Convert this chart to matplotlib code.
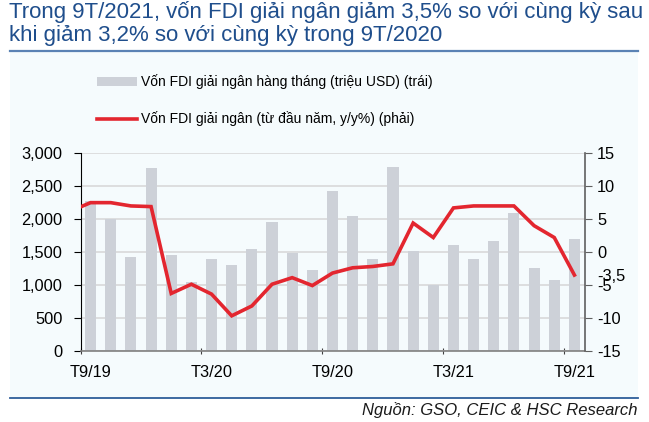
import matplotlib
matplotlib.use("Agg")
import matplotlib.pyplot as plt
from matplotlib.patches import Rectangle, Patch
from matplotlib.lines import Line2D
import numpy as np

plt.rcParams['font.family'] = ['Liberation Sans', 'DejaVu Sans']

# ---- data ----
bar_values = [2270, 2000, 1420, 2780, 1460, 1050, 1400, 1310, 1550, 1960, 1480, 1230,
              2430, 2050, 1400, 2790, 1520, 1000, 1610, 1400, 1660, 2100, 1260, 1080, 1700]
# YTD y/y %, T8/19 .. T9/21 (first point lies just left of the plot)
line_values = [6.2, 7.5, 7.5, 7.0, 6.9, -6.3, -4.9, -6.4, -9.7, -8.2, -4.9, -3.9, -5.1,
               -3.2, -2.4, -2.2, -1.8, 4.4, 2.2, 6.7, 7.0, 7.0, 7.0, 4.0, 2.2, -3.5]
tick_labels = ["T9/19", "T3/20", "T9/20", "T3/21", "T9/21"]
tick_index = [0, 6, 12, 18, 24]
left_ticks = [0, 500, 1000, 1500, 2000, 2500, 3000]
right_ticks = [-15, -10, -5, 0, 5, 10, 15]
right_extra = -3.5
title = "Trong 9T/2021, vốn FDI giải ngân giảm 3,5% so với cùng kỳ sau\nkhi giảm 3,2% so với cùng kỳ trong 9T/2020"
legend_bar = "Vốn FDI giải ngân hàng tháng (triệu USD) (trái)"
legend_line = "Vốn FDI giải ngân (từ đầu năm, y/y%) (phải)"
source = "Nguồn: GSO, CEIC & HSC Research"

W, H = 649, 422
fig = plt.figure(figsize=(W / 100, H / 100), dpi=100)
fig.patch.set_facecolor("white")

def fx(px): return px / W
def fy(py): return 1 - py / H

# background box
bg = "#F5FBFD"
fig.add_artist(Rectangle((fx(10), fy(398)), fx(638) - fx(10), fy(51) - fy(398),
                         transform=fig.transFigure, facecolor=bg, edgecolor="none", zorder=0))
fig.add_artist(Line2D([fx(10), fx(638)], [fy(51), fy(51)], transform=fig.transFigure,
                      color="#5A82B4", lw=1.6))
fig.add_artist(Line2D([fx(10), fx(638)], [fy(398), fy(398)], transform=fig.transFigure,
                      color="#2E5E9A", lw=1.3))

fig.text(fx(9), fy(1), title, ha="left", va="top", fontsize=16, color="#1F4E8C",
         linespacing=1.15)

ax = fig.add_axes([fx(80.5), fy(350.7), fx(584.5) - fx(80.5), fy(153.3) - fy(350.7)])
ax.set_facecolor("none")
x = np.arange(len(bar_values))
ax.bar(x, bar_values, width=0.55, color="#CDD1D8", zorder=2)
ax.set_ylim(0, 3000)
ax.set_xlim(-0.5, len(bar_values) - 0.5)
ax.set_yticks(left_ticks)
ax.set_yticklabels([f"{v:,}" for v in left_ticks], fontsize=11.8)
ax.yaxis.grid(True, color="#D9D9D9", lw=1.2, zorder=0)
ax.set_axisbelow(True)
ax.tick_params(axis="y", length=5, color="black", pad=8)
ax.set_xticks([i - 0.5 for i in tick_index])
ax.set_xticklabels([])
ax.set_xticks(tick_index, minor=True)
ax.set_xticklabels(tick_labels, minor=True, fontsize=11.8)
ax.tick_params(axis="x", which="major", length=5, color="#404040", direction="inout")
ax.tick_params(axis="x", which="minor", length=0, pad=10)
for s in ["top", "right"]:
    ax.spines[s].set_visible(False)
ax.spines["left"].set_color("black")
ax.spines["bottom"].set_color("#808080")
ax.spines["bottom"].set_linewidth(1.2)

ax2 = ax.twinx()
ax2.set_ylim(-15, 15)
xl = np.arange(-1, len(line_values) - 1)
ax2.plot(xl, line_values, color="#E3262F", lw=2.6, zorder=3, solid_joinstyle="miter")
ax2.set_xlim(-0.5, len(bar_values) - 0.5)
rt = right_ticks + [right_extra]
ax2.set_yticks(rt)
ax2.set_yticklabels([str(v).replace(".", ",") for v in rt], fontsize=11.8)
ax2.tick_params(axis="y", length=5, color="#606060", pad=4)
for s in ["top", "left", "bottom"]:
    ax2.spines[s].set_visible(False)
ax2.spines["right"].set_color("#606060")
ax2.spines["right"].set_linewidth(1.2)
for t in ax2.yaxis.get_major_ticks():
    if abs(t.get_loc() - right_extra) < 1e-6:
        t.tick2line.set_visible(False)

handles = [Patch(facecolor="#CDD1D8", edgecolor="none"),
           Line2D([0], [0], color="#E3262F", lw=2.6)]
fig.legend(handles, [legend_bar, legend_line], loc="upper left",
           bbox_to_anchor=(fx(84), fy(62)), frameon=False, fontsize=10,
           handlelength=2.9, handleheight=0.65, handletextpad=0.3, labelspacing=1.6)

fig.text(fx(638), fy(410), source, ha="right", va="center", fontsize=12,
         style="italic", color="#1A1A1A")

fig.savefig("out.png", dpi=100, facecolor="white")
